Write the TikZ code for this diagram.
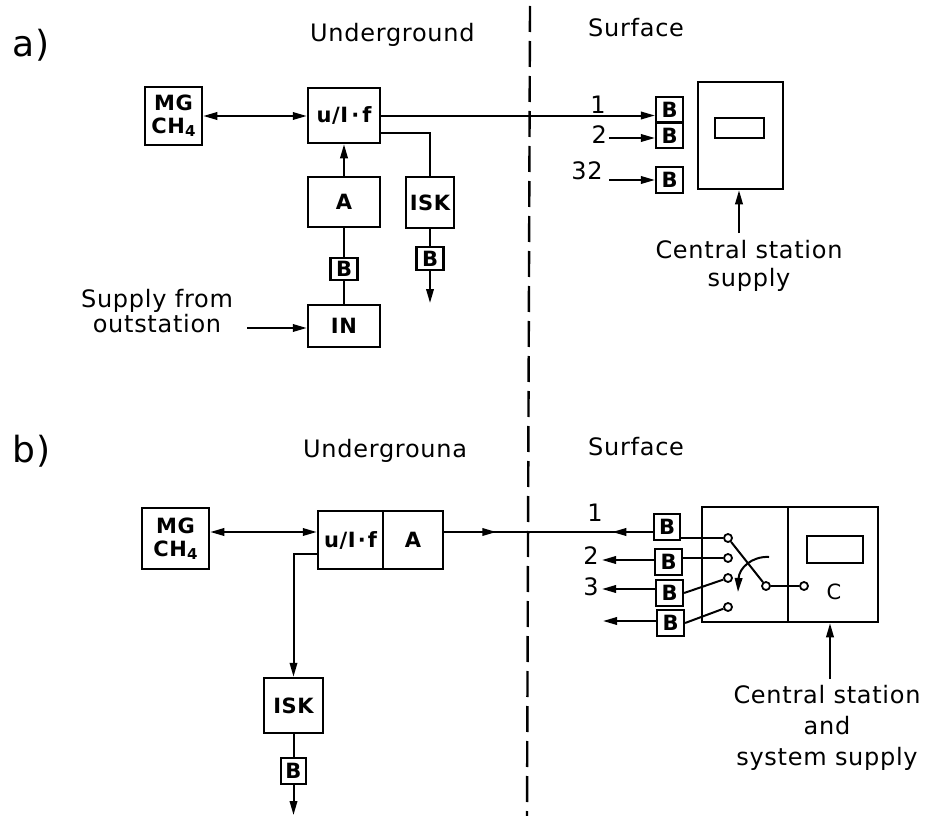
\documentclass[tikz,border=0pt]{standalone}
\usepackage{fontspec}
\setmainfont{DejaVu Sans}[LetterSpace=3]
\usetikzlibrary{arrows.meta,calc,decorations.markings}
\begin{document}
\begin{tikzpicture}[x=1pt,y=-1pt,
  >={Triangle[length=14pt,width=7.5pt]},
  conn/.style={line width=2pt},
  box/.style={draw,line width=2.5pt,inner sep=0pt,align=center,
    font=\fontsize{21}{23}\selectfont\bfseries},
  bbox/.style={draw,line width=2.2pt,inner sep=0pt,minimum width=27pt,minimum height=25pt,
    font=\fontsize{21}{21}\selectfont\bfseries},
  term/.style={draw,circle,fill=white,line width=1.8pt,minimum size=8pt,inner sep=0pt},
  hdr/.style={font=\fontsize{24}{24}\selectfont,inner sep=0pt},
  lbl/.style={font=\fontsize{24}{28}\selectfont,inner sep=0pt,align=center},
  tag/.style={font=\fontsize{36}{36}\selectfont,inner sep=0pt}]
\useasboundingbox (0,0) rectangle (935,816);

% dashed boundary
\coordinate (dtop) at (530,6);
\coordinate (dbot) at (527,816);
\draw[line width=2.4pt,dash pattern=on 26pt off 9pt] (dtop) -- (dbot);

% headers
\node[tag,anchor=base west] (ta) at (12,57) {a)};
\node[hdr,anchor=base west] (ua) at (310,42) {Underground};
\node[hdr,anchor=base west] (sa) at (588,37) {Surface};
\node[tag,anchor=base west] (tb) at (12,462) {b)};
\node[hdr,anchor=base west] (ub) at (303,457) {Undergrouna};
\node[hdr,anchor=base west] (sb) at (588,455) {Surface};

% ================= (a) =================
\node[box,minimum width=57pt,minimum height=58pt] (mgA) at (173.5,116) {MG\\CH\raisebox{-3pt}{\fontsize{15}{15}\selectfont 4}};
\node[box,minimum width=72pt,minimum height=55pt] (uifA) at (344,115.5) {u/I\kern3pt·\kern3pt f};
\node[box,minimum width=72pt,minimum height=50pt] (aA) at (344,202) {A};
\node[bbox,minimum height=22pt] (bA1) at (344,269) {B};
\node[box,minimum width=72pt,minimum height=42pt] (inA) at (344,326) {IN};
\node[box,minimum width=48pt,minimum height=51pt] (iskA) at (430,202.5) {ISK};
\node[bbox,minimum height=23pt] (bA2) at (430,258.5) {B};
\coordinate (downA) at (430,303);

\node[bbox] (Ba1) at (669.5,109.5) {B};
\node[bbox] (Ba2) at (669.5,135.5) {B};
\node[bbox,minimum height=26pt] (Ba32) at (669.5,180) {B};
\node[draw,line width=2.5pt,minimum width=85pt,minimum height=107pt,inner sep=0pt] (csA) at (740.5,135.5) {};
\node[draw,line width=2.2pt,minimum width=49pt,minimum height=20pt,inner sep=0pt] (dispA) at (739.5,128) {};

\node[lbl] (nA1) at (598,105) {1};
\node[lbl,anchor=east] (nA2) at (607,135) {2};
\node[lbl] (nA32) at (587,171) {32};
\node[lbl] (supplyA) at (157,311) {Supply from\\[-3pt]outstation};
\node[lbl] (centralA) at (749,266) {Central station\\supply};

% connectors (a)
\draw[conn,<->] (mgA.east) -- (mgA.east -| uifA.west);
\draw[conn,->] (aA.north) -- (uifA.south);
\draw[conn] (aA.south) -- (bA1.north);
\draw[conn] (bA1.south) -- (inA.north);
\coordinate (supA) at (247,328);
\draw[conn,->] (supA) -- (supA -| inA.west);
\coordinate (iskoutA) at ($(uifA.south east)+(0,-11)$);
\draw[conn] (iskoutA) -| (iskA.north);
\draw[conn] (iskA.south) -- (bA2.north);
\draw[conn,->] (bA2.south) -- (downA);
\draw[conn,->] (uifA.east) -- (uifA.east -| Ba1.west);
\coordinate (l2A) at (609,138);
\draw[conn,->] (l2A) -- (l2A -| Ba2.west);
\coordinate (l32A) at (609,180);
\draw[conn,->] (l32A) -- (l32A -| Ba32.west);
\coordinate (csupA) at (739,233);
\draw[conn,->] (csupA) -- (csupA |- csA.south);

% ================= (b) =================
\node[box,minimum width=67pt,minimum height=61pt] (mgB) at (175.5,538.5) {MG\\CH\raisebox{-3pt}{\fontsize{15}{15}\selectfont 4}};
\node[box,minimum width=65pt,minimum height=58pt] (uifB) at (350.5,540) {u/I\kern2pt·\kern2pt f};
\node[box,minimum width=60pt,minimum height=58pt] (aB) at (413,540) {A};
\node[box,minimum width=59pt,minimum height=55pt] (iskB) at (293.5,705.5) {ISK};
\node[bbox,minimum width=25pt,minimum height=26pt] (bB) at (293.5,771) {B};
\coordinate (downB) at (293.5,815);

\node[bbox,minimum width=26pt,minimum height=26pt] (Bb1) at (667,527) {B};
\node[bbox,minimum height=26pt] (Bb2) at (668.5,562) {B};
\node[bbox,minimum height=26pt] (Bb3) at (669.5,593) {B};
\node[bbox,minimum height=26pt] (Bb4) at (670.5,623) {B};

\node[draw,line width=2.5pt,minimum width=86pt,minimum height=115pt,inner sep=0pt] (swB) at (745,564.5) {};
\node[draw,line width=2.5pt,minimum width=90pt,minimum height=115pt,inner sep=0pt] (cB) at (833,564.5) {};
\node[draw,line width=2.2pt,minimum width=56pt,minimum height=27pt,inner sep=0pt] (dispB) at (835,549.5) {};
\node[lbl,font=\fontsize{21}{21}\selectfont] (cLbl) at (834,592) {C};

\node[term] (t1) at (728,538) {};
\node[term] (t2) at (728,558) {};
\node[term] (t3) at (728,578) {};
\node[term] (t4) at (728,607) {};
\node[term] (piv) at (766,586) {};
\node[term] (tc) at (804,586) {};

\node[lbl] (nB1) at (595,513) {1};
\node[lbl] (nB2) at (591,556) {2};
\node[lbl] (nB3) at (591,587) {3};
\node[lbl,font=\fontsize{24}{31}\selectfont] (centralB) at (827,728) {Central station\\and\\system supply};

% connectors (b)
\coordinate (uifin) at ($(uifB.west)+(0,-8)$);
\draw[conn,<->] (mgB.east |- uifin) -- (uifin);
\coordinate (aout) at ($(aB.east)+(0,-8)$);
\draw[conn,postaction={decorate},decoration={markings,
   mark=at position 52pt with {\arrow{Triangle[length=14pt,width=7.5pt]}},
   mark=at position 168pt with {\arrowreversed{Triangle[length=14pt,width=7.5pt]}}}]
   (aout) -- (aout -| Bb1.west);
\coordinate (iskout) at ($(uifB.west)+(0,14)$);
\draw[conn,->] (iskout) -| (iskB.north);
\draw[conn] (iskB.south) -- (bB.north);
\draw[conn,->] (bB.south) -- (downB);

\coordinate (e2) at (602,560);
\draw[conn,->] (e2 -| Bb2.west) -- (e2);
\coordinate (e3) at (602,589);
\draw[conn,->] (e3 -| Bb3.west) -- (e3);
\coordinate (e4) at (603,621);
\draw[conn,->] (e4 -| Bb4.west) -- (e4);

\draw[conn] (Bb1.east |- t1) -- (t1);
\draw[conn] (Bb2.east |- t2) -- (t2);
\draw[conn] (Bb3.east) -- (t3);
\draw[conn] (Bb4.east) -- (t4);
\draw[conn] (piv) -- (t1);
\draw[conn] (piv) -- (tc);
\coordinate (arcS) at (769,557);
\coordinate (arcE) at (738,592);
\draw[conn,->] (arcS) .. controls (752,556) and (739,568) .. (arcE);
\coordinate (csupB) at (830,679);
\draw[conn,->] (csupB) -- (csupB |- cB.south);
\end{tikzpicture}
\end{document}
